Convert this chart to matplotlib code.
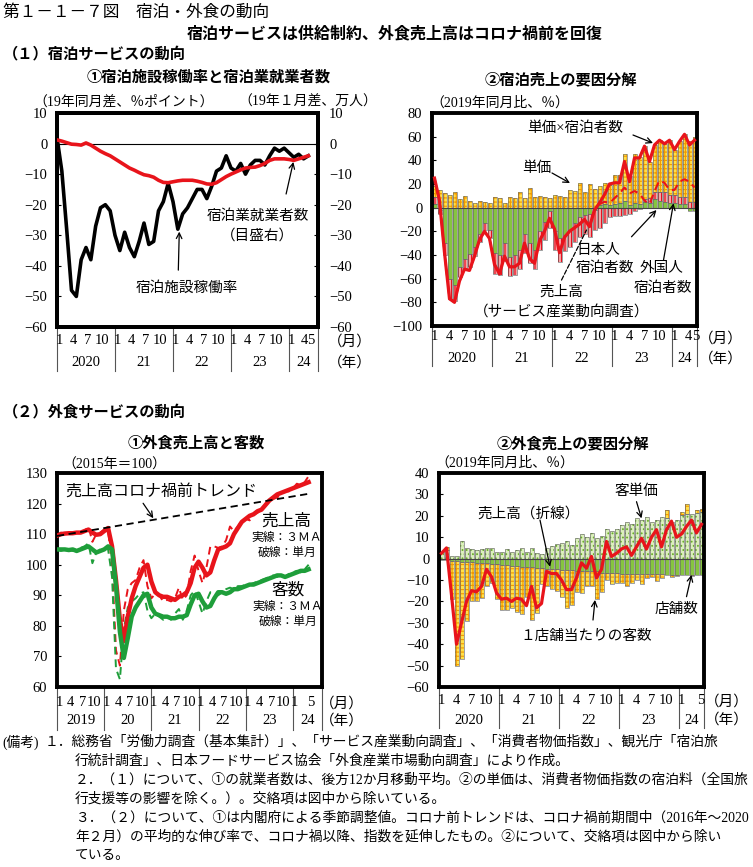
import numpy as np
import matplotlib
matplotlib.use("Agg")
import matplotlib.pyplot as plt
from matplotlib import transforms

plt.rcParams["font.family"] = ["Liberation Serif", "Noto Sans CJK JP"]
plt.rcParams["hatch.linewidth"] = 0.8
plt.rcParams["axes.linewidth"] = 2.8

GOTHIC = ["Noto Sans CJK JP", "DejaVu Sans"]
W, H = 753, 867

# (1)-1  lodging occupancy (diff vs same month 2019) / lodging workers (diff vs Jan 2019), Jan 2020 - May 2024
occupancy_diff = [2, -9, -28, -48, -50, -38, -34, -38, -27, -21, -20, -22,
                  -30, -35, -29, -34, -37, -32, -26, -33, -32, -22, -19, -13,
                  -19, -28, -23, -21, -18, -15, -15, -18, -14, -9, -8, -4,
                  -8, -9, -6.5, -10, -7, -5.5, -5.5, -7, -4, -1.5, -2.5, -1.5,
                  -3, -4.5, -3.5, -5, -4]
workers_diff = [1.2, 0.8, 0.3, -0.2, -0.3, -0.5, 0.2, -0.5, -1.5, -2.5, -3.3, -4.0,
                -5.0, -6.0, -7.0, -8.0, -8.7, -9.5, -10.2, -10.5, -11.0, -12.0, -12.7, -12.8,
                -12.5, -12.2, -12.0, -12.0, -12.0, -12.3, -12.7, -13.2, -13.3, -12.8, -11.8, -10.8,
                -10.0, -9.3, -8.6, -8.0, -7.8, -7.7, -7.2, -6.5, -5.5, -5.0, -5.0, -5.0,
                -5.2, -5.5, -5.0, -4.5, -4.0]

# (1)-2  lodging sales decomposition (% vs same month 2019)
unit_price = [9, 15, 12, 11, 13, 7, 10, 6, 4, 6, 5, 4,
              9, 8, 4, 9, 8, 13, 8, 17, 9, 10, 9, 8,
              11, 10, 9, 15, 14, 21, 13, 20, 16, 16, 18, 17,
              25, 24, 39, 25, 41, 40, 45, 31, 40, 44, 41, 46,
              38, 47, 53, 51, 55]
japanese_guests = [3, -2, -30, -60, -65, -50, -43, -39, -33, -22, -13, -19,
                   -38, -40, -30, -42, -40, -36, -22, -30, -36, -20, -12, -3,
                   -20, -26, -23, -19, -13, -8, -6, -5, -2, 2, 3, 2,
                   3, 4, 6, 2, 4, 3, 5, 4, 7, 6, 5, 4,
                   4, 3, 3, -3, -3]
foreign_guests = [6, -3, -10, -17, -14, -9, -8, -11, -8, -7, -6, -7,
                  -18, -17, -15, -16, -17, -16, -16, -17, -16, -16, -15, -14,
                  -16, -20, -14, -14, -16, -17, -16, -20, -17, -17, -13, -8,
                  -7, -7, -6, -5, -3, -1, 2, 4, 6, 7, 8, 7,
                  7, 6, 6, 5, 5]
price_x_guests = [25, 6, -38, -77, -80, -62, -52, -53, -41, -27, -20, -26,
                  -48, -56, -41, -50, -50, -47, -30, -43, -47, -28, -20, -9,
                  -18, -38, -25, -20, -17, -14, -10, -16, -2, 4, 11, 20,
                  21, 21, 39, 22, 42, 42, 52, 39, 53, 57, 54, 57,
                  49, 56, 62, 53, 57]
lodging_sales = [25, 6, -38, -77, -80, -62, -52, -53, -41, -27, -20, -26,
                 -48, -56, -41, -50, -50, -47, -30, -43, -47, -28, -20, -9,
                 -18, -38, -25, -20, -17, -14, -10, -16, -2, 3, 5, 4,
                 8, 12, 17, 12, 14, 12, 6, 3, 14, 23, 21, 15,
                 15, 22, 24, 22, 17]

# (2)-1  restaurant sales / customers index (2015=100), Jan 2019 - May 2024
sales_3ma = [109.5, 110.0, 110.2, 110.3, 110.3, 110.5, 110.5, 111.0, 111.5, 110.5, 109.8, 110.0,
             111.0, 112.0, 106.0, 95.0, 82.0, 75.0, 83.0, 89.0, 93.0, 96.0, 99.0, 100.0,
             94.5, 91.0, 90.0, 89.5, 89.5, 89.0, 88.5, 89.5, 90.0, 91.0, 94.0, 99.0,
             101.0, 99.0, 96.5, 97.5, 101.5, 105.0, 105.5, 106.0, 107.0, 110.0, 112.0, 114.0,
             115.0, 116.0, 116.5, 117.5, 118.0, 119.5, 121.0, 122.0, 123.0, 123.5, 124.0, 124.5,
             125.0, 125.5, 126.0, 126.5, 127.0]
sales_month = [109.5, 110.5, 110.0, 110.5, 110.5, 110.2, 110.5, 111.0, 112.5, 107.5, 110.0, 110.5,
               111.5, 111.0, 100.0, 72.0, 67.0, 85.0, 92.0, 94.0, 95.0, 99.0, 101.5, 93.0,
               89.0, 90.5, 90.0, 88.0, 88.5, 88.0, 89.0, 92.5, 88.5, 90.0, 98.0, 103.0,
               98.0, 94.0, 99.0, 106.0, 106.0, 105.5, 106.0, 108.0, 112.5, 111.0, 112.5, 114.5,
               115.0, 114.5, 116.5, 117.0, 118.0, 119.5, 120.5, 121.5, 122.0, 123.0, 124.0, 124.0,
               125.0, 126.5, 126.0, 127.0, 129.0]
guests_3ma = [105.0, 105.0, 105.0, 104.8, 105.0, 104.5, 105.0, 105.5, 106.0, 105.0, 104.0, 104.5,
              105.0, 106.0, 105.0, 93.0, 78.0, 69.5, 76.0, 83.0, 86.0, 88.0, 90.0, 90.5,
              86.0, 84.0, 83.5, 83.0, 83.0, 82.5, 82.5, 83.0, 83.0, 83.5, 87.0, 90.0,
              90.5, 88.0, 86.0, 86.5, 89.0, 91.0, 91.0, 90.5, 91.0, 92.0, 92.0, 92.5,
              93.0, 93.5, 93.5, 94.0, 94.5, 95.0, 95.5, 96.0, 96.5, 96.5, 96.0, 96.5,
              97.0, 97.5, 98.0, 98.0, 98.5]
guests_month = [105.0, 104.5, 105.0, 105.0, 104.5, 105.0, 105.5, 106.0, 107.0, 100.5, 104.0, 105.0,
                105.5, 105.0, 96.0, 66.0, 62.5, 79.0, 86.0, 88.0, 89.0, 90.5, 91.0, 85.0,
                82.5, 84.0, 83.0, 82.0, 83.0, 82.0, 84.0, 85.5, 82.0, 85.0, 90.0, 91.5,
                88.0, 84.0, 88.0, 91.0, 91.0, 90.0, 91.0, 92.0, 92.5, 92.0, 93.0, 93.0,
                93.5, 93.5, 94.0, 94.5, 95.0, 95.5, 96.0, 96.5, 96.0, 97.0, 96.0, 97.0,
                97.5, 98.0, 97.5, 98.5, 100.0]
trend_months = [0, 64]
trend_values = [109.4, 123.2]

# (2)-2  restaurant sales decomposition (% vs same month 2019), Jan 2020 - May 2024
spend_per_guest = [3, 4, 1, 1, 8, 5, 4.5, 4, 4.5, 5, 5, 3,
                   3, 4.5, 3, 4, 5, 3, 5, 2.5, 2, 5, 6, 7,
                   7.5, 8, 6.5, 9.5, 11.5, 10, 12, 9.5, 10.5, 13.7, 13, 13.7,
                   15.7, 17.3, 16, 19, 18, 19.6, 17.3, 18, 19.3, 18.8, 17, 18,
                   20.4, 21, 21, 21.5, 22]
store_count = [-0.5, -0.5, -1, -1, -1.5, -1.5, -1.5, -2, -2, -2, -2.5, -2.5,
               -3, -3, -3.5, -3.5, -4, -4, -4, -4.5, -4.5, -5, -5, -5,
               -5.5, -5.5, -5.5, -6, -6, -6, -6, -6, -6.5, -6.5, -6.5, -6.5,
               -7, -7, -7, -7, -7, -7, -7, -7, -7, -7.5, -7.5, -7.5,
               -7.5, -7.5, -7.5, -7.5, -7.5]
guests_per_store = [0, 1.5, -18, -49, -45.5, -27.5, -18.5, -18, -16.5, -11, -9, -16.5,
                    -21, -21, -19.5, -21.5, -22, -14, -24.5, -21, -7.5, -8, -9, -10,
                    -12.5, -17.5, -16, -9.5, -10, -7, -7, -13, -9, -3.5, -5.5, -5,
                    -4.5, -6, -4.5, -3, -5, -2, -1.4, -3.7, -2, 4, -1, -0.5,
                    1.5, 4.5, -0.5, 1.2, 1]
food_sales = [2.5, 5, -17, -40, -30, -20, -15, -15.5, -13, -5, -8.5, -16,
              -19, -18.5, -20, -18.5, -19, -22, -13, -23, -21, -6, -7, -7,
              -10, -14.5, -14.5, -9, -2, -4.5, 1, -9, -5, 8, 1, 2.5,
              4.5, 5.5, 1.5, 5.5, 9.5, 4.5, 10, 13.5, 5.5, 13.5, 17.5, 10,
              11.5, 15, 18, 12, 16]

RED = "#E8141B"
GREEN_LINE = "#1E9E3A"
GREEN_BAR = "#86C440"

fig = plt.figure(figsize=(W / 100, H / 100), dpi=100)


def px_axes(l, t, r, b):
    return fig.add_axes([l / W, 1 - b / H, (r - l) / W, (b - t) / H])


def ftext(x, y, s, **kw):
    kw.setdefault("va", "center")
    fig.text(x / W, 1 - y / H, s, **kw)


def style_axes(ax, ylim, step, pad=7):
    ax.set_ylim(*ylim)
    ax.set_yticks(np.arange(ylim[0], ylim[1] + 0.1, step))
    ax.set_xticks([])
    ax.tick_params(axis="y", direction="in", length=3, width=0.8, labelsize=10.5, pad=pad)


def time_axis(ax, pos, labels, bounds, years, y_m, y_y, y_sep, x_unit):
    tr = transforms.blended_transform_factory(ax.transData, ax.transAxes)
    for p, t in zip(pos, labels):
        ax.text(p, y_m, t, transform=tr, ha="center", va="center", fontsize=10.5)
    for b in bounds:
        ax.plot([b, b], [0, y_sep], transform=tr, color="#555555", lw=0.8, clip_on=False)
    for a, b, y in zip(bounds[:-1], bounds[1:], years):
        ax.text((a + b) / 2, y_y, y, transform=tr, ha="center", va="center", fontsize=10.5)
    ax.text(x_unit, y_m - 0.01, "（月）", transform=ax.transAxes, ha="center", va="center", fontsize=10.5)
    ax.text(x_unit, y_y, "（年）", transform=ax.transAxes, ha="center", va="center", fontsize=10.5)


def label(ax, x, y, s, size=10.5):
    ax.text(x, y, s, ha="center", va="center", fontsize=size, zorder=6)


def arrow(ax, tail, head, ls="-", style="->"):
    ax.annotate("", xy=head, xytext=tail,
                arrowprops=dict(arrowstyle=style, lw=0.9, color="black", linestyle=ls,
                                shrinkA=0, shrinkB=0, mutation_scale=10), zorder=6)


def hatched_bar(ax, x, h, b, face, hatch, hcolor, w=0.8):
    if hatch:
        ax.bar(x, h, w, bottom=b, color=face, edgecolor=hcolor, hatch=hatch, linewidth=0, zorder=2)
    else:
        ax.bar(x, h, w, bottom=b, color=face, linewidth=0, zorder=2)
    ax.bar(x, h, w, bottom=b, fill=False, edgecolor="#6a6a6a", linewidth=0.45, zorder=2.1)


def stacked(ax, x, layers):
    pos = np.zeros(len(x))
    neg = np.zeros(len(x))
    for vals, st in layers:
        v = np.asarray(vals, dtype=float)
        base = np.where(v >= 0, pos, neg)
        hatched_bar(ax, x, v, base, **st)
        pos = pos + np.clip(v, 0, None)
        neg = neg + np.clip(v, None, 0)


yellow_grid = dict(face="#FFE04A", hatch="++++", hcolor="#F29A00")
pink_stripe = dict(face="#F7A3A3", hatch="|||||", hcolor="#E60012")
green_solid = dict(face=GREEN_BAR, hatch=None, hcolor=None)
green_dots = dict(face="#DCEFBE", hatch="....", hcolor="#6AAE2A")

# ---------------- headings ----------------
ftext(3, 12, "第１－１－７図　宿泊・外食の動向", fontsize=12, family=GOTHIC)
ftext(395, 33, "宿泊サービスは供給制約、外食売上高はコロナ禍前を回復", fontsize=11.5,
      family=GOTHIC, ha="center", weight="bold")
ftext(3, 53, "（１）宿泊サービスの動向", fontsize=11, family=GOTHIC, weight="bold")
ftext(209, 77, "①宿泊施設稼働率と宿泊業就業者数", fontsize=11, family=GOTHIC, ha="center", weight="bold")
ftext(561, 79, "②宿泊売上の要因分解", fontsize=11, family=GOTHIC, ha="center", weight="bold")
ftext(33, 102, "（19年同月差、％ポイント）", fontsize=10)
ftext(377, 102, "（19年１月差、万人）", fontsize=10, ha="right")
ftext(430, 103, "（2019年同月比、％）", fontsize=10)
ftext(3, 411, "（２）外食サービスの動向", fontsize=11, family=GOTHIC, weight="bold")
ftext(196, 443, "①外食売上高と客数", fontsize=11, family=GOTHIC, ha="center", weight="bold")
ftext(573, 443, "②外食売上の要因分解", fontsize=11, family=GOTHIC, ha="center", weight="bold")
ftext(62, 465, "（2015年＝100）", fontsize=10)
ftext(435, 463, "（2019年同月比、％）", fontsize=10)

# ---------------- (1)-1 ----------------
ax1 = px_axes(57, 113, 318, 327)
m1 = np.arange(len(occupancy_diff))
ax1.set_xlim(0, 54)
style_axes(ax1, (-60, 10), 10)
ax1.axhline(0, color="black", lw=0.8, zorder=1)
ax1.plot(m1, occupancy_diff, color="black", lw=2.6, zorder=3)
ax1r = ax1.twinx()
style_axes(ax1r, (-60, 10), 10, pad=8)
ax1r.plot(m1, workers_diff, color=RED, lw=2.6, zorder=3)
pos1 = [12 * y + m + 0.4 for y in range(4) for m in (0, 3, 6, 9)] + [48.4, 51.2, 52.6]
lab1 = ["1", "4", "7", "10"] * 4 + ["1", "4", "5"]
time_axis(ax1, pos1, lab1, [0, 12, 24, 36, 48, 54], ["2020", "21", "22", "23", "24"],
          -13 / 214, -36 / 214, -44 / 214, 1.12)
label(ax1, 41.5, -23.7, "宿泊業就業者数")
label(ax1, 41.5, -30.2, "（目盛右）")
arrow(ax1, (47.4, -16.5), (48.9, -6.0))
label(ax1, 26.9, -47.2, "宿泊施設稼働率")
arrow(ax1, (25.1, -41.4), (25.3, -28.8))

# ---------------- (1)-2 ----------------
ax2 = px_axes(432, 113, 697, 326)
x2 = np.arange(len(unit_price)) + 0.5
ax2.set_xlim(0, 53)
style_axes(ax2, (-100, 80), 20)
stacked(ax2, x2, [(japanese_guests, green_solid), (foreign_guests, pink_stripe),
                  (unit_price, yellow_grid)])
ax2.axhline(0, color="#444444", lw=0.8, zorder=2.2)
ax2.plot(x2, lodging_sales, color=RED, lw=1.5, ls=(0, (4, 2.5)), zorder=3)
ax2.plot(x2, price_x_guests, color=RED, lw=2.3, zorder=4)
pos2 = [12 * y + m + 0.5 for y in range(4) for m in (0, 3, 6, 9)] + [48.5, 51.3, 52.7]
time_axis(ax2, pos2, lab1, [0, 12, 24, 36, 48, 53], ["2020", "21", "22", "23", "24"],
          -11 / 213, -33 / 213, -40 / 213, 1.09)
label(ax2, 28.6, 67.3, "単価×宿泊者数")
arrow(ax2, (40.2, 61.4), (44.2, 54.6))
label(ax2, 21.0, 33.5, "単価")
arrow(ax2, (24.0, 29.3), (27.6, 20.8))
label(ax2, 33.2, -35.8, "日本人")
label(ax2, 34.6, -51, "宿泊者数")
arrow(ax2, (39.9, -24.6), (44.9, -2))
label(ax2, 45.9, -51, "外国人")
label(ax2, 46.2, -68, "宿泊者数")
arrow(ax2, (46.3, -44.3), (48.3, 3.7))
label(ax2, 25.9, -71, "売上高")
label(ax2, 26.0, -88, "（サービス産業動向調査）")
arrow(ax2, (25.9, -61.2), (30.9, -18.9), ls="--", style="-")

# ---------------- (2)-1 ----------------
ax3 = px_axes(57, 473, 322, 687)
m3 = np.arange(len(sales_3ma))
ax3.set_xlim(0, 67.4)
style_axes(ax3, (60, 130), 10)
ax3.plot(trend_months, trend_values, color="black", lw=1.3, ls=(0, (4, 2.5)), zorder=4)
ax3.plot(m3, sales_month, color=RED, lw=1.4, ls=(0, (4, 2.5)), zorder=3)
ax3.plot(m3, guests_month, color=GREEN_LINE, lw=1.4, ls=(0, (4, 2.5)), zorder=3)
ax3.plot(m3, sales_3ma, color=RED, lw=3.2, zorder=3)
ax3.plot(m3, guests_3ma, color=GREEN_LINE, lw=3.2, zorder=3)
pos3 = [12 * y + m + 0.5 for y in range(5) for m in (0, 3, 6, 9)] + [60.5, 64.5]
lab3 = ["1", "4", "7", "10"] * 5 + ["1", "5"]
time_axis(ax3, pos3, lab3, [0, 12, 24, 36, 48, 60, 67.4], ["2019", "20", "21", "22", "23", "24"],
          -15 / 214, -34 / 214, -43 / 214, 1.075)
label(ax3, 26.4, 123.9, "売上高コロナ禍前トレンド", 11.5)
arrow(ax3, (21.9, 120.1), (24.5, 115.2))
label(ax3, 58.2, 114.1, "売上高", 12)
label(ax3, 58.4, 108.6, "実線：３ＭＡ", 8.5)
label(ax3, 58.6, 103.8, "破線：単月", 8.5)
label(ax3, 58.7, 91.7, "客数", 12)
label(ax3, 58.7, 86.3, "実線：３ＭＡ", 8.5)
label(ax3, 58.7, 81.4, "破線：単月", 8.5)

# ---------------- (2)-2 ----------------
ax4 = px_axes(439, 473, 704, 687)
x4 = np.arange(len(food_sales)) + 0.5
ax4.set_xlim(0, 53)
style_axes(ax4, (-60, 40), 10)
stacked(ax4, x4, [(spend_per_guest, green_dots), (store_count, green_solid),
                  (guests_per_store, yellow_grid)])
ax4.axhline(0, color="#444444", lw=0.8, zorder=2.2)
ax4.plot(x4, food_sales, color=RED, lw=2.3, zorder=4)
pos4 = [12 * y + m + 0.5 for y in range(4) for m in (0, 3, 6, 9)] + [48.5, 52.3]
lab4 = ["1", "4", "7", "10"] * 4 + ["1", "5"]
time_axis(ax4, pos4, lab4, [0, 12, 24, 36, 48, 53], ["2020", "21", "22", "23", "24"],
          -13 / 214, -33 / 214, -41 / 214, 1.085)
label(ax4, 39.4, 31.3, "客単価")
arrow(ax4, (39.5, 26.6), (40.5, 18.8))
label(ax4, 18.0, 21.2, "売上高（折線）")
arrow(ax4, (20.2, 18.0), (22.2, -3.8))
label(ax4, 29.5, -36.5, "１店舗当たりの客数")
arrow(ax4, (30.8, -28.7), (31.2, -19.3))
label(ax4, 47.5, -24, "店舗数")
arrow(ax4, (49.5, -17.8), (50.5, -7.6))

# ---------------- notes ----------------
notes = [
    (2, 742, "(備考)"),
    (45, 742, "１．総務省「労働力調査（基本集計）」、「サービス産業動向調査」、「消費者物価指数」、観光庁「宿泊旅"),
    (75, 761, "行統計調査」、日本フードサービス協会「外食産業市場動向調査」により作成。"),
    (75, 780, "２．（１）について、①の就業者数は、後方12か月移動平均。②の単価は、消費者物価指数の宿泊料（全国旅"),
    (75, 799, "行支援等の影響を除く。）。交絡項は図中から除いている。"),
    (75, 818, "３．（２）について、①は内閣府による季節調整値。コロナ前トレンドは、コロナ禍前期間中（2016年～2020"),
    (75, 837, "年２月）の平均的な伸び率で、コロナ禍以降、指数を延伸したもの。②について、交絡項は図中から除い"),
    (75, 856, "ている。"),
]
for x, y, s in notes:
    ftext(x, y, s, fontsize=9.9)

fig.savefig("out.png", dpi=100)
